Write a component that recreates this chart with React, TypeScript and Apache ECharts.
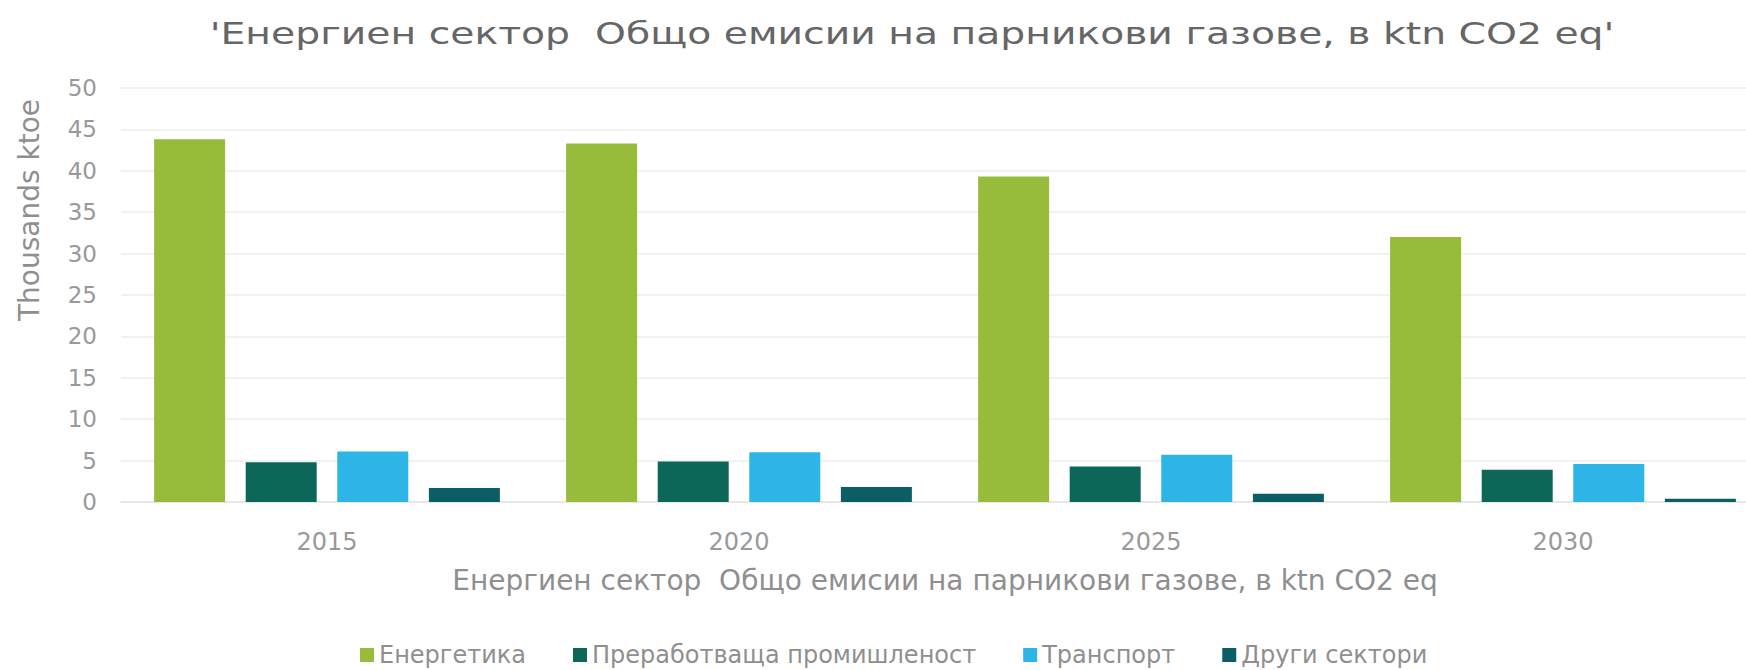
import React, { useEffect, useRef } from "react";
import * as echarts from "echarts";

const titleText = "'Енергиен сектор  Общо емисии на парникови газове, в ktn CO2 eq'";
const xAxisTitle = "Енергиен сектор  Общо емисии на парникови газове, в ktn CO2 eq";
const yAxisTitle = "Thousands ktoe";
const categories = ["2015", "2020", "2025", "2030"];
const seriesNames = ["Енергетика", "Преработваща промишленост", "Транспорт", "Други сектори"];
const energy = [43.8, 43.3, 39.3, 32.0];
const processing = [4.8, 4.9, 4.3, 3.9];
const transport = [6.1, 6.0, 5.7, 4.6];
const other = [1.7, 1.8, 1.0, 0.4];
const colors = ["#97BB3B", "#0D6758", "#2DB5E7", "#0B5E66"];

export default function App() {
  const ref = useRef<HTMLDivElement>(null);
  useEffect(() => {
    document.body.style.margin = "0";
    document.body.style.overflow = "hidden";
    const chart = echarts.init(ref.current!, null, { renderer: "svg" });
    const font = "DejaVu Sans";
    const data = [energy, processing, transport, other];
    chart.setOption({
      animation: false,
      backgroundColor: "#ffffff",
      textStyle: { fontFamily: font },
      graphic: [
        {
          type: "text",
          x: 912,
          y: 34,
          scaleX: 1.31,
          style: {
            text: titleText,
            fontFamily: font,
            fontSize: 30,
            fill: "#666666",
            align: "center",
            verticalAlign: "middle",
          },
        },
        {
          type: "text",
          x: 29,
          y: 210,
          rotation: Math.PI / 2,
          style: {
            text: yAxisTitle,
            fontFamily: font,
            fontSize: 28,
            fill: "#8f8f8f",
            align: "center",
            verticalAlign: "middle",
          },
        },
      ],
      legend: {
        data: seriesNames,
        top: 638,
        left: 355,
        itemWidth: 14,
        itemHeight: 14,
        itemGap: 47,
        icon: "rect",
        textStyle: { fontFamily: font, fontSize: 24, color: "#8f8f8f" },
      },
      grid: { left: 121, right: 21, top: 88, bottom: 168, containLabel: false },
      xAxis: {
        type: "category",
        data: categories,
        name: xAxisTitle,
        nameLocation: "middle",
        nameGap: 64,
        nameTextStyle: { fontFamily: font, fontSize: 28, color: "#8f8f8f" },
        axisLine: { show: true, lineStyle: { color: "#e4e4e4", width: 1.5 } },
        axisTick: { show: false },
        axisLabel: { margin: 28, fontFamily: font, fontSize: 24, color: "#999999" },
      },
      yAxis: {
        type: "value",
        min: 0,
        max: 50,
        interval: 5,
        axisLine: { show: false },
        axisTick: { show: false },
        axisLabel: { margin: 24, fontFamily: font, fontSize: 23, color: "#999999" },
        splitLine: { lineStyle: { color: "#ececec", width: 1.5 } },
      },
      series: seriesNames.map((name, i) => ({
        name,
        type: "bar",
        data: data[i],
        barWidth: 71,
        barGap: "29%",
        itemStyle: { color: colors[i] },
      })),
    });
    return () => chart.dispose();
  }, []);
  return <div ref={ref} style={{ width: 1790, height: 670 }} />;
}
